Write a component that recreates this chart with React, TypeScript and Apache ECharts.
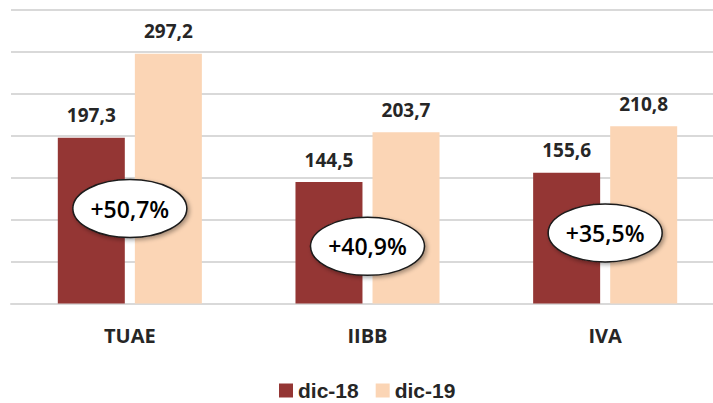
import React, { useEffect, useRef } from "react";
import * as echarts from "echarts";

const categories = ["TUAE", "IIBB", "IVA"];
const dic18 = [197.3, 144.5, 155.6];
const dic19 = [297.2, 203.7, 210.8];
const growth = [50.7, 40.9, 35.5];
const seriesNames = ["dic-18", "dic-19"];

const FONT = "'Open Sans', 'Liberation Sans', sans-serif";
const fmt = (v: number) => v.toFixed(1).replace(".", ",");

export default function App() {
  const ref = useRef<HTMLDivElement>(null);
  useEffect(() => {
    if (!ref.current) return;
    const chart = echarts.init(ref.current, undefined, { renderer: "svg" });
    const badgeLevel = [113, 68, 84];
    const valueLabel = {
      show: true,
      position: "top",
      distance: 13,
      fontFamily: FONT,
      fontWeight: "bold",
      fontSize: 19,
      color: "#262626",
      formatter: (p: any) => fmt(p.value),
    };
    chart.setOption({
      animation: false,
      grid: { left: 11, right: 0, top: 9.3, bottom: 99.5, containLabel: false },
      legend: {
        data: seriesNames,
        left: 279,
        top: 380,
        padding: 0,
        itemWidth: 14,
        itemHeight: 14,
        itemGap: 17,
        icon: "rect",
        textStyle: {
          fontFamily: "'Liberation Sans', sans-serif",
          fontWeight: "bold",
          fontSize: 21,
          color: "#262626",
        },
      },
      xAxis: {
        type: "category",
        data: categories,
        axisLine: { show: true, lineStyle: { color: "#d9d9d9", width: 2 } },
        axisTick: { show: false },
        axisLabel: {
          fontFamily: FONT,
          fontWeight: "bold",
          fontSize: 20,
          color: "#262626",
          margin: 22,
        },
      },
      yAxis: {
        type: "value",
        min: 0,
        max: 350,
        interval: 50,
        axisLabel: { show: false },
        axisLine: { show: false },
        axisTick: { show: false },
        splitLine: { lineStyle: { color: "#d9d9d9", width: 2 } },
      },
      series: [
        {
          name: seriesNames[0],
          type: "bar",
          data: dic18,
          barWidth: 67,
          barGap: "15%",
          itemStyle: { color: "#943634" },
          label: valueLabel,
        },
        {
          name: seriesNames[1],
          type: "bar",
          data: dic19,
          barWidth: 67,
          barGap: "15%",
          itemStyle: { color: "#fbd5b5" },
          label: valueLabel,
        },
        {
          type: "custom",
          data: growth.map((g, i) => [i, badgeLevel[i], g]),
          z: 10,
          renderItem: (params: any, api: any) => {
            const pt = api.coord([api.value(0), api.value(1)]);
            const g = api.value(2);
            return {
              type: "group",
              children: [
                {
                  type: "ellipse",
                  shape: { cx: pt[0], cy: pt[1], rx: 57, ry: 29 },
                  style: {
                    fill: "#ffffff",
                    stroke: "#1a1a1a",
                    lineWidth: 1.5,
                    shadowBlur: 4,
                    shadowOffsetX: 2,
                    shadowOffsetY: 2,
                    shadowColor: "rgba(0,0,0,0.35)",
                  },
                },
                {
                  type: "text",
                  x: pt[0],
                  y: pt[1],
                  style: {
                    text: "+" + fmt(g) + "%",
                    fontFamily: FONT,
                    fontSize: 23,
                    fontWeight: 600,
                    fill: "#000000",
                    align: "center",
                    verticalAlign: "middle",
                  },
                },
              ],
            };
          },
        },
      ],
    });
    return () => chart.dispose();
  }, []);
  return (
    <div
      style={{
        position: "absolute",
        left: 0,
        top: 0,
        width: 713,
        height: 403,
        overflow: "hidden",
        background: "#fff",
      }}
    >
      <div ref={ref} style={{ width: 724, height: 403 }} />
    </div>
  );
}
